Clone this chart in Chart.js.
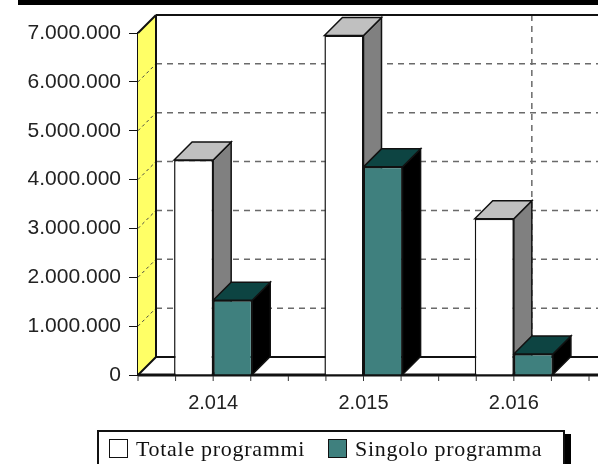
<!DOCTYPE html>
<html>
<head>
<meta charset="utf-8">
<script src="https://cdn.jsdelivr.net/npm/chart.js@4/dist/chart.umd.min.js"></script>
<style>
  body { margin: 0; background: #fff; }
  #wrap { position: relative; width: 598px; height: 464px; overflow: hidden; background: #fff; }
  #legend {
    position: absolute;
    left: 97px;
    top: 430px;
    width: 464px;
    height: 50px;
    border: 2px solid #111;
    background: #fff;
    box-shadow: 6px 4px 0 #000;
    font-family: 'Liberation Serif', 'DejaVu Serif', serif;
    font-size: 22px;
    letter-spacing: 0.7px;
    color: #111;
  }
  .item { position: absolute; top: 4px; white-space: nowrap; }
  .swatch {
    display: inline-block;
    width: 17px;
    height: 17px;
    border: 1.5px solid #111;
    vertical-align: -2px;
    margin-right: 8px;
  }
</style>
</head>
<body>
<div id="wrap">
  <canvas id="chart" width="598" height="464"></canvas>
  <div id="legend">
    <span class="item" style="left:10px"><span class="swatch" style="background:#fff"></span>Totale programmi</span>
    <span class="item" style="left:229px"><span class="swatch" style="background:#3f807e"></span>Singolo programma</span>
  </div>
</div>
<script>
const years = ['2.014', '2.015', '2.016'];
const seriesNames = ['Totale programmi', 'Singolo programma'];
const totale = [4400000, 6950000, 3200000];
const singolo = [1530000, 4260000, 430000];
const yTicks = [0, 1000000, 2000000, 3000000, 4000000, 5000000, 6000000, 7000000];

const DEPTH = 18;
const faceColors = [
  { top: '#c0c0c0', side: '#808080' },
  { top: '#0d4442', side: '#000000' },
];

function fmt(v) {
  return String(v).replace(/\B(?=(\d{3})+(?!\d))/g, '.');
}

// walls, floor and the 3d faces of the bars (fronts come from chart.js)
const box3d = {
  id: 'box3d',
  beforeDatasetsDraw(chart) {
    const ctx = chart.ctx;
    const a = chart.chartArea;
    const y = chart.scales.y;
    const x = chart.scales.x;
    const d = DEPTH;
    const base = y.getPixelForValue(0);
    const top = y.getPixelForValue(yTicks[yTicks.length - 1]);
    const right = chart.width + 10;

    ctx.save();
    // black band at the top
    ctx.fillStyle = '#000';
    ctx.fillRect(18, 0, chart.width, 5);

    // left wall
    ctx.fillStyle = '#ffff66';
    ctx.beginPath();
    ctx.moveTo(a.left, base);
    ctx.lineTo(a.left, top);
    ctx.lineTo(a.left + d, top - d);
    ctx.lineTo(a.left + d, base - d);
    ctx.closePath();
    ctx.fill();

    // back wall grid
    ctx.strokeStyle = '#6a6a6a';
    ctx.lineWidth = 1.5;
    ctx.setLineDash([6, 5]);
    yTicks.forEach(v => {
      const py = y.getPixelForValue(v) - d;
      ctx.beginPath();
      ctx.moveTo(a.left + d, py);
      ctx.lineTo(right, py);
      ctx.stroke();
    });
    const vx = x.getPixelForValue(years.length - 1) + d;
    ctx.beginPath();
    ctx.moveTo(vx, top - d);
    ctx.lineTo(vx, base - d);
    ctx.stroke();

    // dashes across the left wall
    ctx.strokeStyle = '#444';
    ctx.lineWidth = 1;
    ctx.setLineDash([3, 3]);
    yTicks.forEach(v => {
      const py = y.getPixelForValue(v);
      ctx.beginPath();
      ctx.moveTo(a.left, py);
      ctx.lineTo(a.left + d, py - d);
      ctx.stroke();
    });
    ctx.setLineDash([]);

    // edges
    ctx.strokeStyle = '#111';
    ctx.lineWidth = 2;
    ctx.beginPath();
    ctx.moveTo(a.left + d, top - d);
    ctx.lineTo(right, top - d);
    ctx.moveTo(a.left + d, top - d);
    ctx.lineTo(a.left + d, base - d);
    ctx.lineTo(right, base - d);
    ctx.moveTo(a.left, top);
    ctx.lineTo(a.left + d, top - d);
    ctx.moveTo(a.left, base);
    ctx.lineTo(a.left + d, base - d);
    ctx.stroke();

    // front floor edge
    ctx.lineWidth = 3;
    ctx.beginPath();
    ctx.moveTo(a.left, base);
    ctx.lineTo(right, base);
    ctx.stroke();

    // small ticks under the floor, four per category
    ctx.lineWidth = 1;
    ctx.strokeStyle = '#333';
    for (let i = -0.5; i <= years.length - 0.5; i += 0.25) {
      const px = x.getPixelForValue(0) + i * (x.getPixelForValue(1) - x.getPixelForValue(0));
      ctx.beginPath();
      ctx.moveTo(px, base + 1);
      ctx.lineTo(px, base + 6);
      ctx.stroke();
    }

    // top and side faces of the bars
    chart.data.datasets.forEach((ds, di) => {
      const meta = chart.getDatasetMeta(di);
      meta.data.forEach(bar => {
        const p = bar.getProps(['x', 'y', 'base', 'width'], true);
        const x1 = p.x - p.width / 2;
        const x2 = p.x + p.width / 2;
        ctx.fillStyle = faceColors[di].side;
        ctx.strokeStyle = '#111';
        ctx.lineWidth = 1.5;
        ctx.beginPath();
        ctx.moveTo(x2, p.y);
        ctx.lineTo(x2 + d, p.y - d);
        ctx.lineTo(x2 + d, p.base - d);
        ctx.lineTo(x2, p.base);
        ctx.closePath();
        ctx.fill();
        ctx.stroke();
        ctx.fillStyle = faceColors[di].top;
        ctx.beginPath();
        ctx.moveTo(x1, p.y);
        ctx.lineTo(x1 + d, p.y - d);
        ctx.lineTo(x2 + d, p.y - d);
        ctx.lineTo(x2, p.y);
        ctx.closePath();
        ctx.fill();
        ctx.stroke();
      });
    });
    ctx.restore();
  },
};

new Chart(document.getElementById('chart'), {
  type: 'bar',
  data: {
    labels: years,
    datasets: [
      {
        label: seriesNames[0],
        data: totale,
        backgroundColor: '#ffffff',
        borderColor: '#111',
        borderWidth: 1.5,
      },
      {
        label: seriesNames[1],
        data: singolo,
        backgroundColor: '#3f807e',
        borderColor: '#111',
        borderWidth: 1.5,
      },
    ],
  },
  options: {
    responsive: false,
    animation: false,
    layout: { padding: { top: 33, right: 9, left: 0, bottom: 0 } },
    datasets: { bar: { categoryPercentage: 0.52, barPercentage: 1.0 } },
    plugins: { legend: { display: false }, tooltip: { enabled: false } },
    scales: {
      x: {
        grid: { display: false },
        border: { display: false },
        ticks: {
          color: '#222',
          padding: 8,
          font: { family: 'Liberation Sans, Arial, sans-serif', size: 20 },
        },
        afterFit(s) { s.height = 89; },
      },
      y: {
        min: 0,
        max: 7000000,
        grid: { drawOnChartArea: false, drawTicks: true, tickLength: 9, color: '#111' },
        border: { display: true, color: '#111', width: 2 },
        afterBuildTicks(s) { s.ticks = yTicks.map(v => ({ value: v })); },
        ticks: {
          color: '#222',
          padding: 8,
          callback: v => fmt(v),
          font: { family: 'Liberation Sans, Arial, sans-serif', size: 21 },
        },
        afterFit(s) { s.width = 138; },
      },
    },
  },
  plugins: [box3d],
});
</script>
</body>
</html>
